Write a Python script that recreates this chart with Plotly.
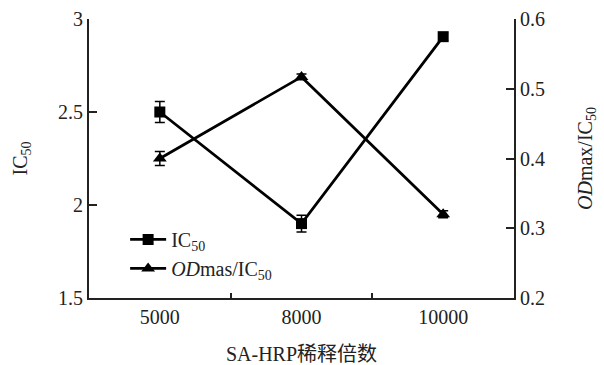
import plotly.graph_objects as go

# SA-HRP dilution factors
dilutions = ["5000", "8000", "10000"]

# IC50 with error
ic50 = [2.50, 1.90, 2.905]
ic50_err = [0.057, 0.045, 0.02]

# ODmax / IC50 with error
od_ratio = [0.40, 0.517, 0.320]
od_ratio_err = [0.010, 0.004, 0.005]

FONT = "Liberation Serif, Times New Roman, Noto Sans CJK SC, serif"

fig = go.Figure()

fig.add_trace(go.Scatter(
    x=dilutions, y=ic50, name="IC<sub>50</sub>",
    mode="lines+markers",
    line=dict(color="black", width=2.8),
    marker=dict(symbol="square", size=11, color="black"),
    error_y=dict(type="data", array=ic50_err, color="black", thickness=1.5, width=5),
    yaxis="y",
))

fig.add_trace(go.Scatter(
    x=dilutions, y=od_ratio, name="<i>OD</i>mas/IC<sub>50</sub>",
    mode="lines+markers",
    line=dict(color="black", width=2.8),
    marker=dict(symbol="triangle-up", size=12, color="black"),
    error_y=dict(type="data", array=od_ratio_err, color="black", thickness=1.5, width=5),
    yaxis="y2",
))

fig.update_layout(
    width=604, height=365,
    margin=dict(l=89, r=90, t=19, b=67),
    paper_bgcolor="white", plot_bgcolor="white",
    font=dict(family=FONT, size=20, color="#222"),
    showlegend=True,
    legend=dict(
        x=0.085, y=0.28, xanchor="left", yanchor="top",
        bgcolor="rgba(0,0,0,0)", font=dict(size=20),
        itemwidth=36, tracegroupgap=2,
    ),
    xaxis=dict(
        type="category", range=[-0.5, 2.5], automargin=False,
        showline=True, linecolor="#222", linewidth=2,
        ticks="inside", tickson="boundaries", ticklen=5, tickwidth=1.5, tickcolor="#222",
        showgrid=False, zeroline=False,
        title=dict(text="SA-HRP稀释倍数", standoff=22, font=dict(size=20)),
    ),
    yaxis=dict(
        range=[1.5, 3], dtick=0.5, tick0=1.5, automargin=False,
        showline=True, linecolor="#222", linewidth=2,
        ticks="inside", ticklen=8, tickwidth=2, tickcolor="#222",
        showgrid=False, zeroline=False,
        title=dict(text="IC<sub>50</sub>", standoff=25, font=dict(size=20)),
    ),
    yaxis2=dict(
        range=[0.2, 0.6], dtick=0.1, tick0=0.2, automargin=False,
        overlaying="y", side="right",
        showline=True, linecolor="#222", linewidth=2,
        ticks="inside", ticklen=8, tickwidth=2, tickcolor="#222",
        showgrid=False, zeroline=False,
        title=dict(text="<i>OD</i>max/IC<sub>50</sub>", standoff=34, font=dict(size=20)),
    ),
)

fig.write_html("out.html")
